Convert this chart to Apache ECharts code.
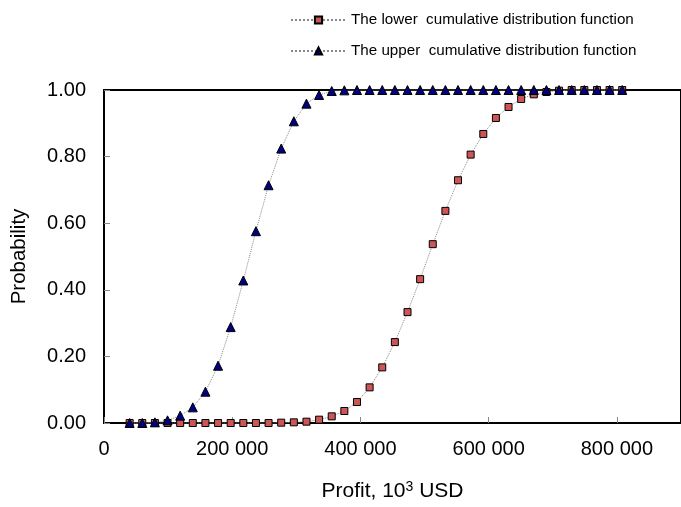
<!DOCTYPE html>
<html>
<head>
<meta charset="utf-8">
<script src="https://cdn.jsdelivr.net/npm/echarts@6/dist/echarts.min.js"></script>
<style>html,body{margin:0;padding:0;background:#fff}#c{width:681px;height:507px}</style>
</head>
<body>
<div id="c"></div>
<script>
const profit = [40000, 59700, 79400, 99100, 118800, 138500, 158200, 177900, 197600, 217300,
  237000, 256700, 276400, 296100, 315800, 335500, 355200, 374900, 394600, 414300,
  434000, 453700, 473400, 493100, 512800, 532500, 552200, 571900, 591600, 611300,
  631000, 650700, 670400, 690100, 709800, 729500, 749200, 768900, 788600, 808300];
const lowerCdf = [0, 0, 0, 0, 0, 0, 0, 0, 0, 0,
  0, 0, 0.001, 0.002, 0.004, 0.010, 0.020, 0.036, 0.063, 0.107,
  0.167, 0.243, 0.333, 0.432, 0.537, 0.637, 0.729, 0.806, 0.868, 0.916,
  0.949, 0.973, 0.987, 0.994, 0.998, 1, 1, 1, 1, 1];
const upperCdf = [0, 0, 0.002, 0.008, 0.022, 0.047, 0.094, 0.172, 0.288, 0.428,
  0.576, 0.714, 0.824, 0.906, 0.959, 0.985, 0.997, 0.999, 1, 1,
  1, 1, 1, 1, 1, 1, 1, 1, 1, 1,
  1, 1, 1, 1, 1, 1, 1, 1, 1, 1];
const seriesNames = ['The lower  cumulative distribution function', 'The upper  cumulative distribution function'];
const xTicks = [0, 200000, 400000, 600000, 800000];
const yTicks = [0, 0.2, 0.4, 0.6, 0.8, 1.0];

const font = 'Liberation Sans, Arial, sans-serif';
const chart = echarts.init(document.getElementById('c'));
const pair = (ys) => profit.map((x, i) => [x, ys[i]]);
chart.setOption({
  animation: false,
  textStyle: { fontFamily: font },
  legend: {
    orient: 'vertical', left: 285, top: 7, itemGap: 15,
    itemWidth: 55, itemHeight: 9,
    textStyle: { fontSize: 15.2, color: '#000', fontFamily: font, lineHeight: 16 },
    data: seriesNames
  },
  grid: { left: 104, top: 90, bottom: 84, right: -7, show: true, borderColor: '#000', borderWidth: 2, backgroundColor: 'transparent' },
  xAxis: {
    type: 'value', min: 0, max: 900000, interval: 200000,
    name: 'Profit, 10{sup|3} USD', nameLocation: 'middle', nameGap: 57,
    nameTextStyle: { fontSize: 21, color: '#000', fontFamily: font,
      rich: { sup: { fontSize: 14, verticalAlign: 'top', padding: [0, 0, 9, 0], fontFamily: font, color: '#000' } } },
    axisLine: { show: true, lineStyle: { color: '#000', width: 2 } },
    axisTick: { show: true, inside: true, length: 6, lineStyle: { color: '#888' } },
    axisLabel: { fontSize: 20, color: '#000', margin: 16, showMaxLabel: false,
      formatter: v => xTicks.includes(v) ? String(v).replace(/\B(?=(\d{3})+(?!\d))/g, ' ') : '' },
    splitLine: { show: false }
  },
  yAxis: {
    type: 'value', min: 0, max: 1, interval: 0.2,
    name: 'Probability', nameLocation: 'middle', nameGap: 74,
    nameTextStyle: { fontSize: 20.5, color: '#000', fontFamily: font },
    axisLine: { show: true, lineStyle: { color: '#000', width: 2 } },
    axisTick: { show: true, inside: true, length: 6, lineStyle: { color: '#888' } },
    axisLabel: { fontSize: 20, color: '#000', margin: 18,
      formatter: v => yTicks.some(t => Math.abs(t - v) < 1e-9) ? v.toFixed(2) : '' },
    splitLine: { show: false }
  },
  series: [
    { name: seriesNames[0], type: 'line', data: pair(lowerCdf), clip: false,
      symbol: 'rect', symbolSize: 7,
      itemStyle: { color: '#cc5555', borderColor: '#000', borderWidth: 1 },
      lineStyle: { color: '#888', width: 1, type: 'dotted' } },
    { name: seriesNames[1], type: 'line', data: pair(upperCdf), clip: false,
      symbol: 'triangle', symbolSize: 9,
      itemStyle: { color: '#000080', borderColor: '#000', borderWidth: 1 },
      lineStyle: { color: '#888', width: 1, type: 'dotted' } }
  ]
});
</script>
</body>
</html>
